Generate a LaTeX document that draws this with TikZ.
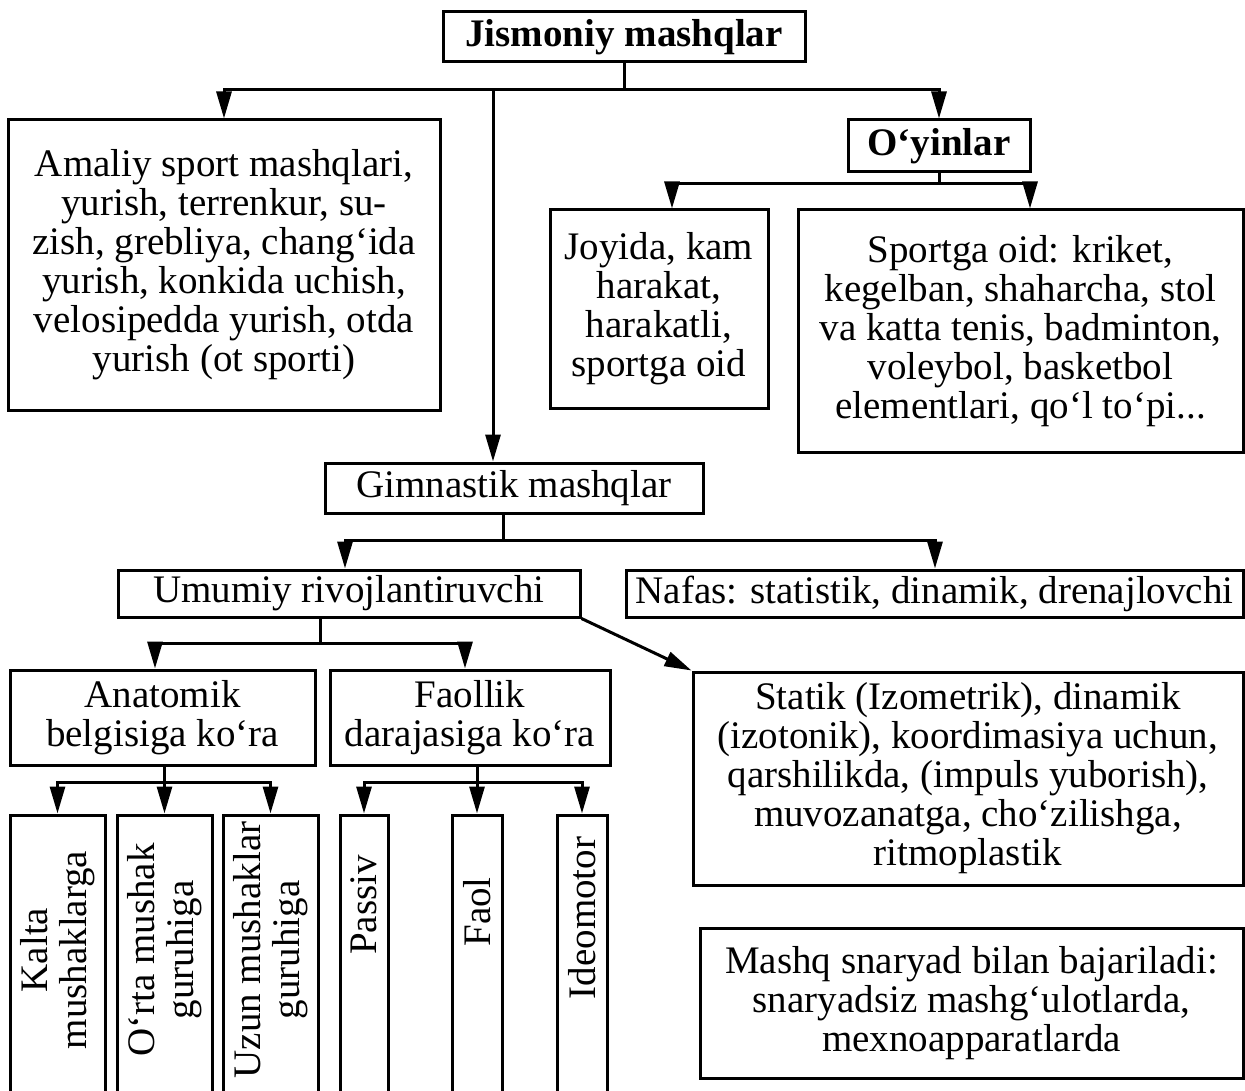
\documentclass[tikz,border=0pt]{standalone}
\usepackage{fontspec}
\setmainfont{Liberation Serif}
\usetikzlibrary{arrows.meta}
\begin{document}
\begin{tikzpicture}[x=1pt,y=-1pt,
  box/.style={draw, line width=3pt, inner sep=0pt, align=center, font=\fontsize{39}{39}\selectfont},
  tbox/.style={box, font=\bfseries\fontsize{39}{39}\selectfont},
  line/.style={line width=3pt},
  arr/.style={line width=3pt, -{Triangle[width=15pt,length=27pt]}},
  vtext/.style={rotate=90, align=center, inner sep=0pt, font=\fontsize{39}{39}\selectfont}]
\fill[white] (0,0) rectangle (1245,1091);
\useasboundingbox (0,0) rectangle (1245,1091);

% nodes
\node[tbox, minimum width=362pt, minimum height=50pt] (jis) at (624,37) {Jismoniy mashqlar};
\node[box, minimum width=432pt, minimum height=290pt] (ama) at (224,265)
  {Amaliy sport mashqlari,\\ yurish, terrenkur, su-\\ zish, grebliya, chang‘ida\\ yurish, konkida uchish,\\ velosipedda yurish, otda\\ yurish (ot sporti)};
\node[tbox, minimum width=182pt, minimum height=52pt] (oyi) at (939,146) {O‘yinlar};
\node[box, minimum width=218pt, minimum height=198pt] (joy) at (659,309)
  {Joyida, kam\\ harakat,\\ harakatli,\\ sportga oid};
\node[box, minimum width=445pt, minimum height=242pt] (spo) at (1020.5,331)
  {Sportga oid: kriket,\\ kegelban, shaharcha, stol\\ va katta tenis, badminton,\\ voleybol, basketbol\\ elementlari, qo‘l to‘pi...};
\node[box, minimum width=378pt, minimum height=50pt] (gim) at (514,488) {Gimnastik mashqlar};
\node[box, minimum width=462pt, minimum height=47pt] (umu) at (349,593.5) {Umumiy rivojlantiruvchi};
\node[box, minimum width=617pt, minimum height=47pt] (naf) at (934.5,593.5) {Nafas: statistik, dinamik, drenajlovchi};
\node[box, minimum width=305pt, minimum height=95pt] (ana) at (162.5,717.5) {Anatomik\\ belgisiga ko‘ra};
\node[box, minimum width=280pt, minimum height=95pt] (fao) at (470,717.5) {Faollik\\ darajasiga ko‘ra};
\node[box, minimum width=550pt, minimum height=213pt] (sta) at (968,778.5)
  {Statik (Izometrik), dinamik\\ (izotonik), koordimasiya uchun,\\ qarshilikda, (impuls yuborish),\\ muvozanatga, cho‘zilishga,\\ ritmoplastik};
\node[box, minimum width=543pt, minimum height=150pt] (mas) at (971.5,1003)
  {Mashq snaryad bilan bajariladi:\\ snaryadsiz mashg‘ulotlarda,\\ mexnoapparatlarda};

\node[box, minimum width=95pt, minimum height=285pt] (kal) at (57.5,957.5) {};
\node[box, minimum width=95pt, minimum height=285pt] (ort) at (164.5,957.5) {};
\node[box, minimum width=95pt, minimum height=285pt] (uzu) at (270.5,957.5) {};
\node[box, minimum width=48pt, minimum height=285pt] (pas) at (364,957.5) {};
\node[box, minimum width=50pt, minimum height=285pt] (faol) at (477,957.5) {};
\node[box, minimum width=50pt, minimum height=285pt] (ide) at (582,957.5) {};
\node[vtext] (kalt) at (57.5,950) {Kalta\\ mushaklarga};
\node[vtext] (ortt) at (164.5,950) {O‘rta mushak\\ guruhiga};
\node[vtext] (uzut) at (270.5,950) {Uzun mushaklar\\ guruhiga};
\node[vtext] (past) at (364,905) {Passiv};
\node[vtext] (faolt) at (477,912) {Faol};
\node[vtext] (idet) at (582,918) {Ideomotor};

% connectors
\coordinate (jh) at (624,90);
\coordinate (gx) at (493,90);
\draw[line] (jis.south) -- (jh);
\draw[arr] (jh) -| (ama.north);
\draw[arr] (jh) -| (oyi.north);
\draw[arr] (gx) -- (gx |- gim.north);

\coordinate (oh) at (939,184);
\coordinate (jx) at (672,184);
\coordinate (sx) at (1030,184);
\draw[line] (oyi.south) -- (oh);
\draw[arr] (oh) -- (jx) -- (jx |- joy.north);
\draw[arr] (oh) -- (sx) -- (sx |- spo.north);

\coordinate (gh) at (503,540);
\coordinate (ux) at (345,540);
\coordinate (nx) at (935,540);
\draw[line] (gh |- gim.south) -- (gh);
\draw[arr] (gh) -- (ux) -- (ux |- umu.north);
\draw[arr] (gh) -- (nx) -- (nx |- naf.north);

\coordinate (uh) at (320,643);
\coordinate (ax) at (155,643);
\coordinate (fx) at (465,643);
\draw[line] (uh |- umu.south) -- (uh);
\draw[arr] (uh) -- (ax) -- (ax |- ana.north);
\draw[arr] (uh) -- (fx) -- (fx |- fao.north);
\draw[arr] (umu.south east) -- (sta.north west);

\coordinate (ah) at (164.5,782);
\draw[arr] (ort.north |- ana.south) -- (ort.north);
\draw[arr] (ah) -| (kal.north);
\draw[arr] (ah) -| (uzu.north);

\coordinate (fh) at (477,782);
\draw[arr] (faol.north |- fao.south) -- (faol.north);
\draw[arr] (fh) -| (pas.north);
\draw[arr] (fh) -| (ide.north);
\end{tikzpicture}
\end{document}
